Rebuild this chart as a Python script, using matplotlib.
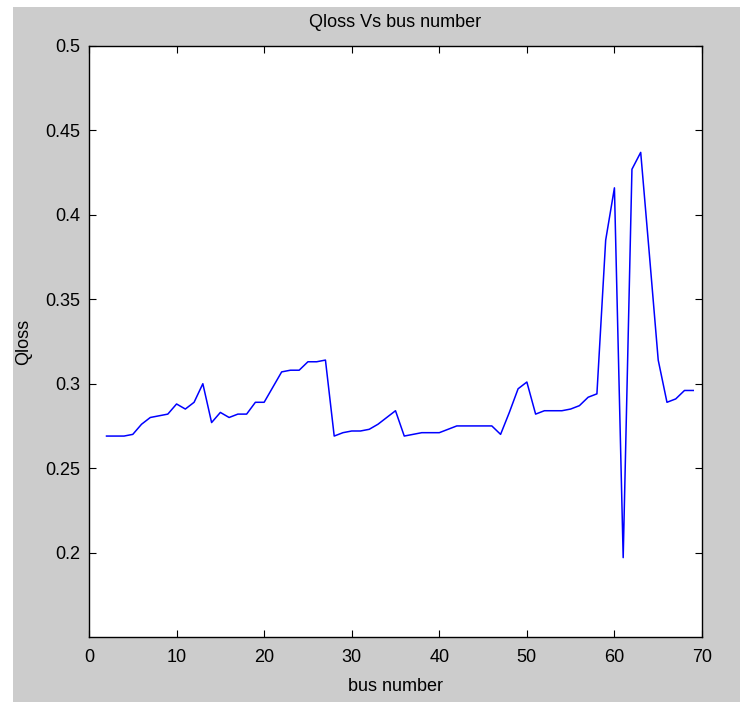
import matplotlib.pyplot as plt
import numpy as np
from matplotlib.patches import Rectangle

# Qloss per bus (buses 2..69)
bus = np.arange(2, 70)
qloss = [0.269, 0.269, 0.269, 0.270, 0.276, 0.280, 0.281, 0.282, 0.288, 0.285,
         0.289, 0.300, 0.277, 0.283, 0.280, 0.282, 0.282, 0.289, 0.289, 0.298,
         0.307, 0.308, 0.308, 0.313, 0.313, 0.314, 0.269, 0.271, 0.272, 0.272,
         0.273, 0.276, 0.280, 0.284, 0.269, 0.270, 0.271, 0.271, 0.271, 0.273,
         0.275, 0.275, 0.275, 0.275, 0.275, 0.270, 0.283, 0.297, 0.301, 0.282,
         0.284, 0.284, 0.284, 0.285, 0.287, 0.292, 0.294, 0.385, 0.416, 0.197,
         0.427, 0.437, 0.376, 0.314, 0.289, 0.291, 0.296, 0.296]

xticks = [0, 10, 20, 30, 40, 50, 60, 70]
yticks = [0.2, 0.25, 0.3, 0.35, 0.4, 0.45, 0.5]
ytick_labels = ["0.2", "0.25", "0.3", "0.35", "0.4", "0.45", "0.5"]

plt.rcParams['font.family'] = ['Liberation Sans Narrow', 'Liberation Sans', 'DejaVu Sans']

fig = plt.figure(figsize=(7.4, 7.02), dpi=100, facecolor='white')
# grey MATLAB figure panel
fig.patches.append(Rectangle((13 / 740, 0), 1, 1 - 7 / 702, transform=fig.transFigure,
                             facecolor='#cccccc', edgecolor='none', zorder=-1))

ax = fig.add_axes([89 / 740, 1 - 637 / 702, 613 / 740, 591 / 702])
ax.plot(bus, qloss, color='#0000ff', linewidth=1.1)

ax.set_xlim(0, 70)
ax.set_ylim(0.15, 0.5)
ax.set_xticks(xticks)
ax.set_yticks(yticks)
ax.set_yticklabels(ytick_labels)
ax.tick_params(direction='in', length=5, width=0.8, top=True, right=True,
               labelsize=13, colors='black')
ax.tick_params(axis='x', pad=9)
ax.tick_params(axis='y', pad=6)
for s in ax.spines.values():
    s.set_linewidth(1.0)

ax.set_title("Qloss Vs bus number", fontsize=13, pad=14)
ax.set_xlabel("bus number", fontsize=13, labelpad=8)
ax.set_ylabel("Qloss", fontsize=13, labelpad=10)

fig.savefig("out.png", dpi=100, facecolor=fig.get_facecolor())
